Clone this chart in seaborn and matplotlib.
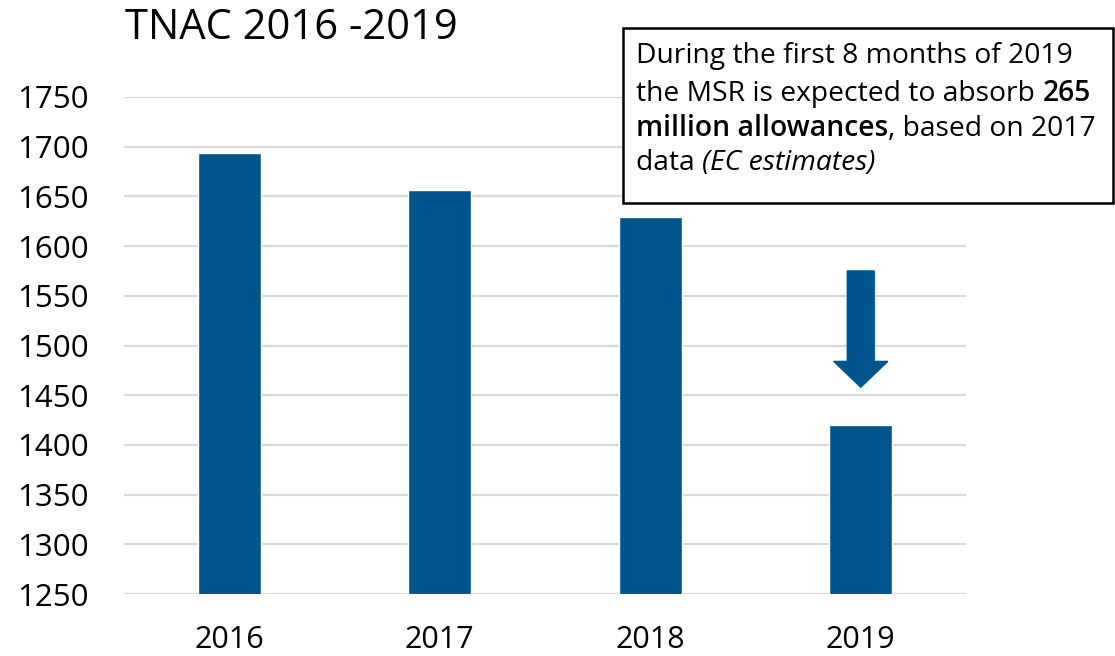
import matplotlib
matplotlib.use("Agg")
import matplotlib.pyplot as plt
import seaborn as sns
import pandas as pd
from matplotlib.patches import Rectangle

years = ["2016", "2017", "2018", "2019"]
tnac = [1694, 1656, 1629, 1420]
y_ticks = [1250, 1300, 1350, 1400, 1450, 1500, 1550, 1600, 1650, 1700, 1750]
arrow_from = 1575
arrow_to = 1458
title = "TNAC 2016 -2019"

sns.set_theme(style="white")
plt.rcParams['font.family'] = ['Open Sans', 'DejaVu Sans']

W, H = 1115, 656
fig = plt.figure(figsize=(W / 100, H / 100), dpi=100)
ax = fig.add_axes([124 / W, 1 - 594 / H, (966 - 124) / W, (594 - 97) / H])

df = pd.DataFrame({"year": years, "tnac": tnac})
bar_color = "#00558F"
sns.barplot(data=df, x="year", y="tnac", color=bar_color, width=0.30,
            saturation=1, ax=ax, zorder=3)

ax.set_ylim(y_ticks[0], y_ticks[-1])
ax.set_xlim(-0.5, len(years) - 0.5)
ax.set_yticks(y_ticks)
ax.yaxis.grid(True, color="#d9d9d9", linewidth=1.6, zorder=0)
ax.set_axisbelow(True)
for s in ax.spines.values():
    s.set_visible(False)
ax.tick_params(axis="y", length=0, pad=25, labelsize=22.5, labelcolor="black")
ax.tick_params(axis="x", length=0, pad=22, labelsize=22, labelcolor="black")
ax.set_xlabel("")
ax.set_ylabel("")

# arrow above 2019 bar
ax.arrow(len(years) - 1, arrow_from, 0, arrow_to - arrow_from, width=0.128,
         head_width=0.257, head_length=26, length_includes_head=True,
         color=bar_color, zorder=4)

fig.text(125 / W, 1 - 28 / H, title, fontsize=30, va="center", ha="left",
         color="black")

# annotation box
fig.patches.append(Rectangle((623 / W, 1 - 203 / H), (1113 - 623) / W, (203 - 28) / H,
                             transform=fig.transFigure, facecolor="white",
                             edgecolor="black", linewidth=1.8, zorder=5))

lines = [
    [("During the first 8 months of 2019", "normal", "normal")],
    [("the MSR is expected to absorb ", "normal", "normal"), ("265", "semibold", "normal")],
    [("million allowances", "semibold", "normal"), (", based on 2017", "normal", "normal")],
    [("data ", "normal", "normal"), ("(EC estimates)", "normal", "italic")],
]
line_y = [52, 90, 125, 159]
fig.canvas.draw()
renderer = fig.canvas.get_renderer()
for parts, yc in zip(lines, line_y):
    x = 636
    for txt, weight, style in parts:
        t = fig.text(x / W, 1 - yc / H, txt, fontsize=20.3, fontweight=weight,
                     fontstyle=style, va="center_baseline", ha="left",
                     color="black", zorder=6)
        bb = t.get_window_extent(renderer)
        x += bb.width

fig.savefig("out.png", dpi=100)
